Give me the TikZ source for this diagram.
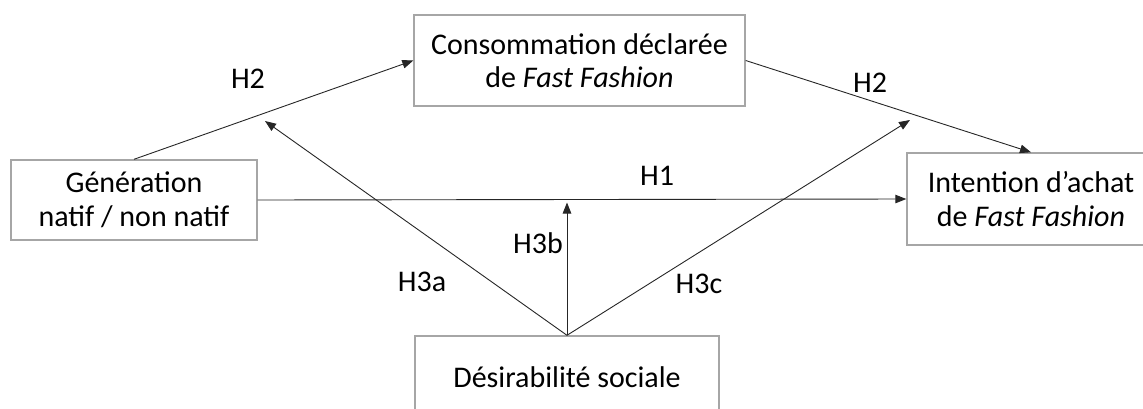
\documentclass[tikz,border=0pt]{standalone}
\usepackage{fontspec}
\setmainfont{Carlito}
\usetikzlibrary{arrows.meta}
\definecolor{boxgray}{HTML}{A6A6A6}
\definecolor{linegray}{HTML}{262626}
\tikzset{
  varbox/.style={draw=boxgray, line width=1.4pt, align=center, inner sep=0pt,
    font=\fontsize{30}{33.5}\selectfont},
  link/.style={draw=linegray, line width=0.9pt, -{Triangle[length=11pt,width=8.5pt]}},
  hyp/.style={font=\fontsize{30}{33.5}\selectfont, inner sep=0pt},
}
\begin{document}
\begin{tikzpicture}[x=1pt,y=-1pt]
\useasboundingbox (0,0) rectangle (1143,408);
\clip (0,0) rectangle (1143,408);
\node[varbox, minimum width=331pt, minimum height=91pt] (cons) at (579.5,60.5) {Consommation déclarée\\de \textit{Fast Fashion}};
\node[varbox, minimum width=246pt, minimum height=80pt] (gen) at (134,200) {Génération\\natif / non natif};
\node[varbox, minimum width=248pt, minimum height=92pt] (int) at (1031,199) {Intention d’achat\\de \textit{Fast Fashion}};
\node[varbox, minimum width=304pt, minimum height=82pt] (des) at (567,377) {Désirabilité sociale};
\coordinate (a3) at (265,121);
\coordinate (b3) at (567,202.5);
\coordinate (c3) at (910,120);
\draw[link] (gen.north) -- (cons.west);
\draw[link] (cons.east) -- (int.north);
\draw[link] (gen.east) -- (int.west);
\draw[link] (des.north) -- (a3);
\draw[link] (des.north) -- (b3);
\draw[link] (des.north) -- (c3);
\node[hyp] (h2a) at (248,79) {H2};
\node[hyp] (h2b) at (870,83) {H2};
\node[hyp] (h1) at (657,176) {H1};
\node[hyp] (h3a) at (422,282) {H3a};
\node[hyp] (h3b) at (538,243) {H3b};
\node[hyp] (h3c) at (699,284) {H3c};
\end{tikzpicture}
\end{document}
